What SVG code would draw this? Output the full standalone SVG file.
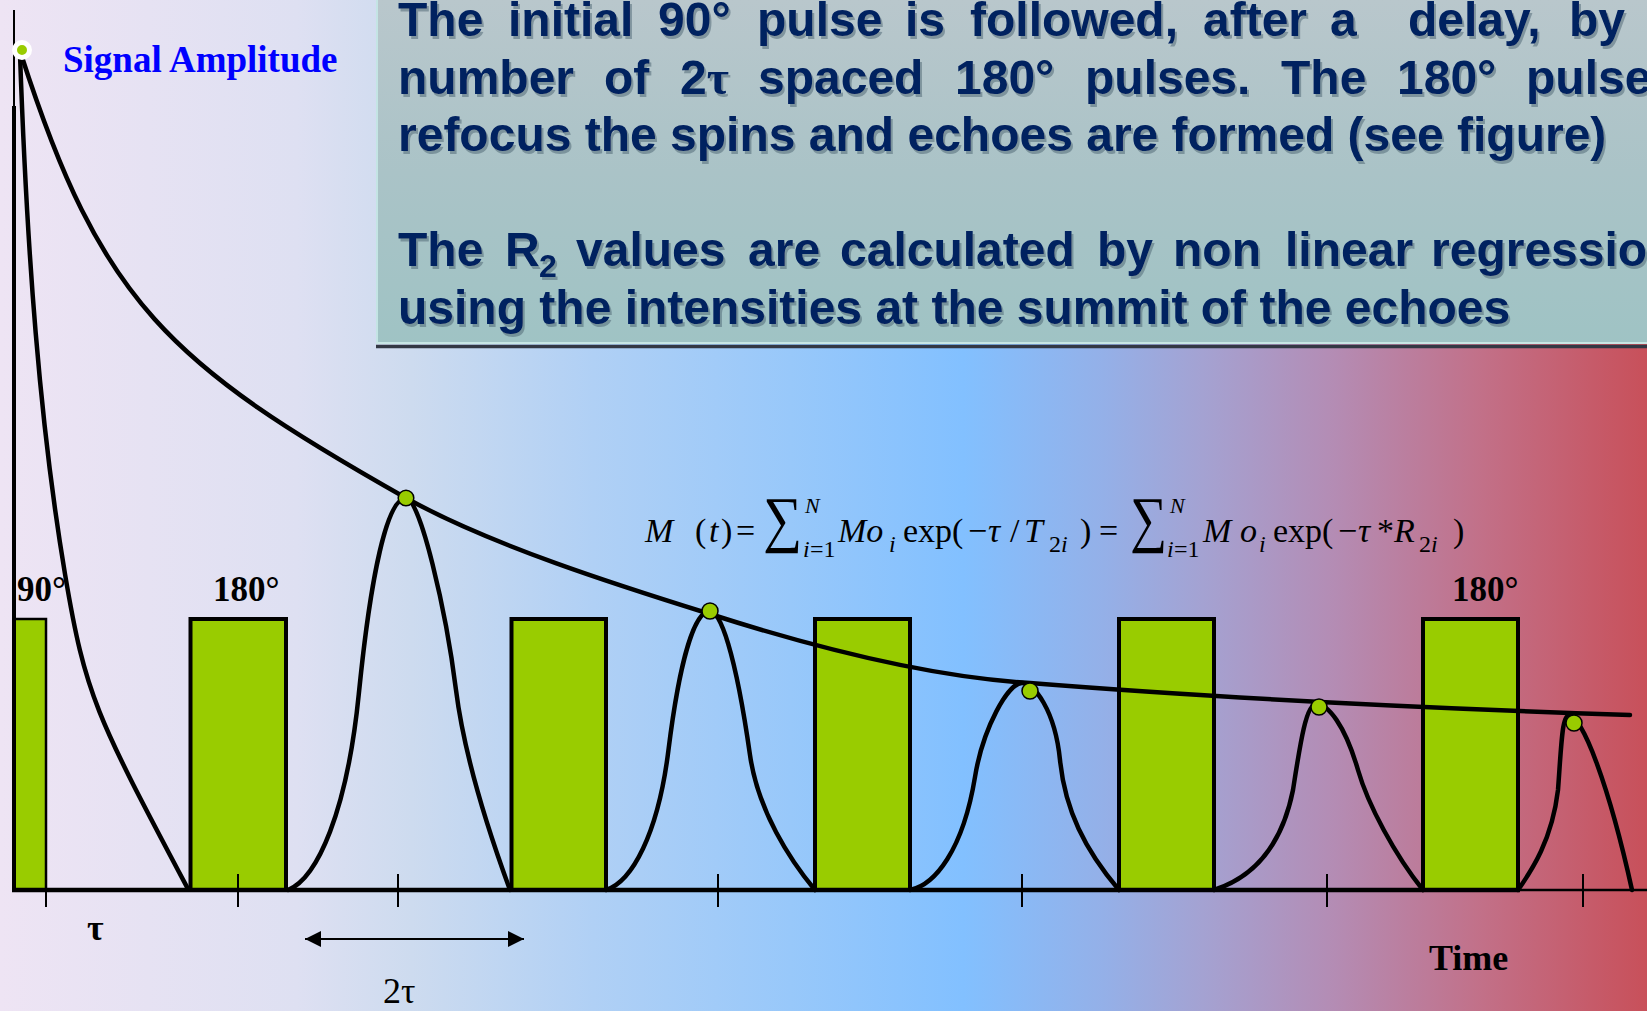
<svg xmlns="http://www.w3.org/2000/svg" width="1647" height="1011" viewBox="0 0 1647 1011">
  <defs>
    <linearGradient id="bg" x1="0" y1="0" x2="1647" y2="0" gradientUnits="userSpaceOnUse">
      <stop offset="0" stop-color="#eee4f4"/>
      <stop offset="0.18" stop-color="#dee0f2"/>
      <stop offset="0.25" stop-color="#cddbef"/>
      <stop offset="0.36" stop-color="#b0d0f5"/>
      <stop offset="0.48" stop-color="#98c8fa"/>
      <stop offset="0.585" stop-color="#82c0ff"/>
      <stop offset="0.67" stop-color="#94b0e8"/>
      <stop offset="0.73" stop-color="#a4a2d2"/>
      <stop offset="0.81" stop-color="#b48cb4"/>
      <stop offset="0.90" stop-color="#c27088"/>
      <stop offset="1" stop-color="#c8505a"/>
    </linearGradient>
    <linearGradient id="boxg" x1="0" y1="0" x2="0" y2="345" gradientUnits="userSpaceOnUse">
      <stop offset="0" stop-color="#b9c7cc"/>
      <stop offset="0.5" stop-color="#aac3c7"/>
      <stop offset="1" stop-color="#9fc3c4"/>
    </linearGradient>
    <filter id="tsh" x="-5%" y="-30%" width="110%" height="160%">
      <feDropShadow dx="2" dy="3" stdDeviation="0.6" flood-color="#4a6270" flood-opacity="0.5"/>
    </filter>
    <marker id="ah" viewBox="0 0 16 16" refX="16" refY="8" markerWidth="16" markerHeight="16" markerUnits="userSpaceOnUse" orient="auto-start-reverse">
      <path d="M0,0 L16,8 L0,16 z" fill="#000"/>
    </marker>
    <style>
      .pulse { fill: #99cc00; stroke: #000; stroke-width: 4; }
      .curve { fill: none; stroke: #000; stroke-width: 4.5; stroke-linejoin: round; stroke-linecap: round; }
      .tick { stroke: #000; stroke-width: 2; }
      .dot { fill: #99cc00; stroke: #000; stroke-width: 1.5; }
      .box { font-family: "Liberation Sans", Arial, sans-serif; font-weight: bold; font-size: 48px; fill: #002060; }
      .lbl { font-family: "Liberation Serif", "Times New Roman", serif; font-weight: bold; font-size: 35px; fill: #000; }
      .math { font-family: "Liberation Serif", "Times New Roman", serif; font-size: 34px; fill: #000; }
      .sum { font-family: "Liberation Serif", "Times New Roman", serif; font-size: 62px; fill: #000; }
      .it { font-style: italic; }
      .sm { font-size: 24px; }
      .sup { font-size: 22px; }
    </style>
  </defs>

  <rect x="0" y="0" width="1647" height="1011" fill="url(#bg)"/>

  <g id="text-box">
    <rect x="376" y="0" width="1271" height="344" fill="url(#boxg)"/>
    <line x1="377" y1="0" x2="377" y2="344" stroke="#c4e4e4" stroke-width="2"/>
    <line x1="376" y1="343" x2="1647" y2="343" stroke="#c8e6e4" stroke-width="2"/>
    <line x1="376" y1="346.5" x2="1647" y2="346.5" stroke="#333844" stroke-width="3.5"/>
    <g filter="url(#tsh)">
      <text class="box" y="36"><tspan x="398">The</tspan><tspan x="508">initial</tspan><tspan x="658">90°</tspan><tspan x="757">pulse</tspan><tspan x="905">is</tspan><tspan x="970">followed,</tspan><tspan x="1203">after</tspan><tspan x="1330">a</tspan><tspan x="1408">delay,</tspan><tspan x="1569">by</tspan></text>
      <text class="box" y="93.5"><tspan x="398">number</tspan><tspan x="604">of</tspan><tspan x="680">2<tspan font-family="Liberation Serif, serif">τ</tspan></tspan><tspan x="758">spaced</tspan><tspan x="955">180°</tspan><tspan x="1085">pulses.</tspan><tspan x="1281">The</tspan><tspan x="1397">180°</tspan><tspan x="1526">pulse</tspan></text>
      <text class="box" x="398" y="151">refocus the spins and echoes are formed (see figure)</text>
      <text class="box" y="266"><tspan x="398">The</tspan><tspan x="505">R</tspan><tspan x="539" y="277" font-size="32">2</tspan><tspan x="576" y="266">values</tspan><tspan x="748">are</tspan><tspan x="840">calculated</tspan><tspan x="1097">by</tspan><tspan x="1173">non</tspan><tspan x="1285">linear</tspan><tspan x="1431">regressio</tspan></text>
      <text class="box" x="398" y="323.5">using the intensities at the summit of the echoes</text>
    </g>
  </g>

  <g id="pulses">
    <g id="pulse-90"><rect x="14" y="619" width="32" height="271" fill="#99cc00" stroke="#000" stroke-width="2.5"/></g>
    <g id="pulse-180-1"><rect class="pulse" x="190.5" y="619" width="95.5" height="271"/></g>
    <g id="pulse-180-2"><rect class="pulse" x="511.5" y="619" width="94.5" height="271"/></g>
    <g id="pulse-180-3"><rect class="pulse" x="815" y="619" width="95" height="271"/></g>
    <g id="pulse-180-4"><rect class="pulse" x="1119" y="619" width="95" height="271"/></g>
    <g id="pulse-180-5"><rect class="pulse" x="1423" y="619" width="95" height="271"/></g>
  </g>

  <g id="axes">
    <line x1="14" y1="10" x2="14" y2="108" stroke="#000" stroke-width="2"/>
    <line x1="14" y1="106" x2="14" y2="892" stroke="#000" stroke-width="4"/>
    <line x1="12" y1="890" x2="1520" y2="890" stroke="#000" stroke-width="4.5"/>
    <line x1="1518" y1="890" x2="1647" y2="890" stroke="#000" stroke-width="2.5"/>
    <line class="tick" x1="46" y1="874" x2="46" y2="907"/>
    <line class="tick" x1="238" y1="874" x2="238" y2="907"/>
    <line class="tick" x1="398" y1="874" x2="398" y2="907"/>
    <line class="tick" x1="718" y1="874" x2="718" y2="907"/>
    <line class="tick" x1="1022" y1="874" x2="1022" y2="907"/>
    <line class="tick" x1="1327" y1="874" x2="1327" y2="907"/>
    <line class="tick" x1="1583" y1="874" x2="1583" y2="907"/>
  </g>

  <g id="labels">
    <text class="lbl" x="17" y="601">90°</text>
    <text class="lbl" x="213" y="601">180°</text>
    <text class="lbl" x="1452" y="601">180°</text>
    <text x="63" y="72" font-family="Liberation Serif, 'Times New Roman', serif" font-weight="bold" font-size="37" fill="#0000ff">Signal Amplitude</text>
    <text x="87" y="940" font-family="Liberation Serif, 'Times New Roman', serif" font-weight="bold" font-size="36" fill="#000">τ</text>
    <text x="383" y="1003" font-family="Liberation Serif, 'Times New Roman', serif" font-size="36" fill="#000">2τ</text>
    <text x="1429" y="970" font-family="Liberation Serif, 'Times New Roman', serif" font-weight="bold" font-size="36" fill="#000">Time</text>
  </g>

  <g id="formula">
    <text class="math"><tspan class="it" x="645" y="542">M</tspan><tspan x="695" y="542">(</tspan><tspan class="it" x="709" y="542">t</tspan><tspan x="721" y="542">)</tspan><tspan x="736" y="542">=</tspan><tspan class="it sup" x="805" y="513">N</tspan><tspan class="sm it" x="803" y="557">i</tspan><tspan class="sm" x="810" y="557">=1</tspan><tspan class="it" x="838" y="542">Mo</tspan><tspan class="it sm" x="889" y="552">i</tspan><tspan x="903" y="542">exp(</tspan><tspan x="968" y="542">−</tspan><tspan class="it" x="988" y="542">τ</tspan><tspan x="1010" y="542">/</tspan><tspan class="it" x="1024" y="542">T</tspan><tspan class="sm" x="1049" y="552">2</tspan><tspan class="sm it" x="1061" y="552">i</tspan><tspan x="1080" y="542">)</tspan><tspan x="1099" y="542">=</tspan><tspan class="it sup" x="1170" y="513">N</tspan><tspan class="sm it" x="1167" y="557">i</tspan><tspan class="sm" x="1174" y="557">=1</tspan><tspan class="it" x="1203" y="542">M</tspan><tspan class="it" x="1240" y="542">o</tspan><tspan class="it sm" x="1259" y="552">i</tspan><tspan x="1273" y="542">exp(</tspan><tspan x="1338" y="542">−</tspan><tspan class="it" x="1358" y="542">τ</tspan><tspan x="1377" y="542">*</tspan><tspan class="it" x="1394" y="542">R</tspan><tspan class="sm" x="1419" y="552">2</tspan><tspan class="sm it" x="1431" y="552">i</tspan><tspan x="1453" y="542">)</tspan></text>
    <text class="sum" x="763" y="540" textLength="39" lengthAdjust="spacingAndGlyphs">∑</text>
    <text class="sum" x="1130" y="540" textLength="37" lengthAdjust="spacingAndGlyphs">∑</text>
  </g>

  <g id="curves">
    <path id="fid" class="curve" d="M20,54 C27,254 39.8,424 65,574 C85.4,695.6 95.7,715 188,889"/>
    <path id="envelope" class="curve" d="M21,54 C100.9,303 169,364 406,498 C490,545 620,586 710,614 C810,646 930,677 1030,683 C1230,699 1450,709 1630,715"/>
    <path id="echo-1" class="curve" d="M288,890 C317.5,878 347,811.6 358.8,694 C370.6,576.4 387,498 406,498 C420,498 446,610 456,690 C464,754 488,830 510,890"/>
    <path id="echo-2" class="curve" d="M606,890 C632,881.6 658,834.2 668.4,750.5 C678.8,666.8 693.4,611 710,611 C720,611 735,650 750,755 C758,811 790,860 815,890"/>
    <path id="echo-3" class="curve" d="M910,890 C935,885 963,850 975,777 C983,728 1008,683 1022,683 C1034,683 1055,710 1060,760 C1065,810 1085,850 1119,890"/>
    <path id="echo-4" class="curve" d="M1214,890 C1245,880 1280,855 1293,790 C1300,745 1306,704 1316,704 C1328,704 1345,725 1358,770 C1368,805 1395,855 1423,890"/>
    <path id="echo-5" class="curve" d="M1518,890 C1532,870 1552,840 1558,790 C1561,750 1562,716 1568,716 C1582,712 1610,790 1632,890"/>
    <line x1="305" y1="939" x2="524" y2="939" stroke="#000" stroke-width="2" marker-start="url(#ah)" marker-end="url(#ah)"/>
  </g>

  <g id="points">
    <circle cx="22" cy="50" r="7.5" fill="#99cc00" stroke="#fff" stroke-width="5"/>
    <circle class="dot" cx="406" cy="498" r="7.8"/>
    <circle class="dot" cx="710" cy="611" r="8"/>
    <circle class="dot" cx="1030" cy="691" r="8"/>
    <circle class="dot" cx="1319" cy="707" r="8"/>
    <circle class="dot" cx="1574" cy="723" r="8"/>
  </g>
</svg>
